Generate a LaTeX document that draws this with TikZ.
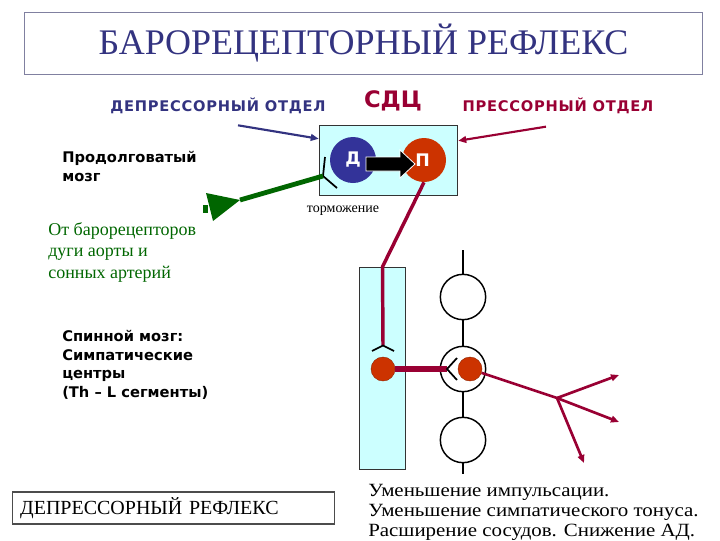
\documentclass[tikz,border=0pt]{standalone}
\usepackage{fontspec}
\setmainfont{Liberation Serif}
\setsansfont{DejaVu Sans}
\newfontfamily\spacedsans{DejaVu Sans}[LetterSpace=5]
\newfontfamily\wideserif{Liberation Serif}[FakeStretch=1.12]
\usepackage{tikz}
\usetikzlibrary{arrows.meta}

\definecolor{titlenavy}{RGB}{51,51,128}
\definecolor{framegray}{RGB}{128,128,160}
\definecolor{wine}{RGB}{153,0,51}
\definecolor{darkgreen}{RGB}{0,102,0}
\definecolor{paleblue}{RGB}{204,255,255}
\definecolor{neuronred}{RGB}{204,51,0}
\definecolor{neuronblue}{RGB}{51,51,153}

\begin{document}
\begin{tikzpicture}[x=0.75pt,y=0.75pt,yscale=-1,xscale=1,
	cyanbox/.style={draw=black!80, fill=paleblue, line width=0.6pt, inner sep=0pt},
	cell/.style={circle, fill=neuronred, draw=neuronred!70!black, line width=0.3pt, minimum size=18pt, inner sep=0pt},
	ganglion/.style={circle, draw=black, line width=1.1pt, minimum size=34pt, inner sep=0pt},
	synapse/.style={draw=black, line width=1.3pt},
	axon/.style={draw=wine, line width=2.6pt},
	tip/.style={-{Triangle[length=6pt,width=5pt]}},
	boldlabel/.style={font=\sffamily\bfseries\fontsize{11}{14}\selectfont, align=left, inner sep=0pt}
]
\useasboundingbox (0,0) rectangle (720,540);

%Shape: Rectangle
\node (title) at (363.5,43.5) [draw=framegray, line width=0.8pt, minimum width=509pt, minimum height=47pt, text=titlenavy, font=\fontsize{27}{30}\selectfont] {БАРОРЕЦЕПТОРНЫЙ РЕФЛЕКС};

% Text Node
\node (deplabel) at (218,106) [text=titlenavy, font=\spacedsans\bfseries\fontsize{11}{13}\selectfont] {ДЕПРЕССОРНЫЙ ОТДЕЛ};
% Text Node
\node (sdclabel) at (393,101) [text=wine, font=\sffamily\bfseries\fontsize{17}{20}\selectfont] {СДЦ};
% Text Node
\node (preslabel) at (558,106) [text=wine, font=\spacedsans\bfseries\fontsize{11}{13}\selectfont] {ПРЕССОРНЫЙ ОТДЕЛ};

%Shape: Rectangle
\node (sdc) at (388.5,160.5) [cyanbox, minimum width=104pt, minimum height=53pt] {};
%Shape: Circle
\node (d) at (353,160) [circle, fill=neuronblue, minimum size=34.5pt, inner sep=0pt, text=white, font=\sffamily\bfseries\fontsize{13}{15}\selectfont] {\raisebox{-3pt}{Д}};
%Shape: Circle
\node (p) at (424,160) [circle, fill=neuronred, minimum size=33pt, inner sep=0pt, text=white, font=\sffamily\bfseries\fontsize{13}{15}\selectfont] {\raisebox{-3pt}{\hspace{-2pt}П}};
%Shape: Right Arrow
\filldraw [fill=black, draw=white, line width=0.6pt] (366,157) -- (400,157) -- (400,150) -- (415,164) -- (400,178) -- (400,171) -- (366,171) -- cycle ;

%Straight Lines
\draw [titlenavy, line width=1.6pt, tip] ([xshift=15pt,yshift=5pt]deplabel.south) -- ([yshift=10.5pt]sdc.north west) ;
%Straight Lines
\draw [wine, line width=1.6pt, tip] ([xshift=-9pt,yshift=6pt]preslabel.south) -- ([yshift=12pt]sdc.north east) ;

% synapse on the depressor neuron
\coordinate (syn) at (323,176);
\draw [synapse] (325,157) -- (syn) -- (337,188) ;
% afferent fibre
\coordinate (recep) at (240,200);
\draw [darkgreen, line width=3.6pt] (syn) -- (recep) ;
\fill [darkgreen] (recep) -- (206,193) -- (213,221) -- cycle ;
\fill [darkgreen] (203,205) rectangle (208,213) ;

% Text Node
\node (torm) at (343,211) [font=\fontsize{10.5}{12}\selectfont] {торможение};
% Text Node
\node (medulla) at (62,151) [anchor=north west, boldlabel] {Продолговатый\\мозг};
% Text Node
\node (afferent) at (48,222) [anchor=north west, text=darkgreen, align=left, inner sep=0pt, font=\fontsize{13.5}{16.2}\selectfont] {От барорецепторов\\дуги аорты и\\сонных артерий};
% Text Node
\node (spinal) at (62,330) [anchor=north west, boldlabel] {Спинной мозг:\\Симпатические\\центры\\(Th -- L сегменты)};

%Shape: Rectangle
\node (cord) at (382.5,368.5) [cyanbox, minimum width=35pt, minimum height=152pt] {};
%Shape: Circle
\node (cordcell) at (383,369) [cell] {};
\coordinate (capS) at (383,345);
\draw [axon] (p.south) -- (cord.north) -- (capS) ;
\draw [synapse] (372,351) -- (383,345.5) -- (394,351) ;

% sympathetic chain
\node (g1) at (463,297) [ganglion] {};
\node (g2) at (463,369) [ganglion] {};
\node (g3) at (463,440) [ganglion] {};
\coordinate (chaintop) at (463,250);
\coordinate (chainbot) at (463,474);
\draw [line width=1.1pt] (chaintop) -- (g1) -- (g2) -- (g3) -- (chainbot) ;
\coordinate (gsyn) at (447,369);
\draw [wine, line width=3.8pt] (cordcell) -- (gsyn) ;
\draw [synapse] (457,358) -- (gsyn) -- (457,380) ;
\node (gcell) at (470,369) [cell] {};

% postganglionic fibre
\coordinate (branch) at (557,398);
\coordinate (endA) at (619,375);
\coordinate (endB) at (619,422);
\coordinate (endC) at (584,463);
\draw [wine, line width=2pt] (gcell) -- (branch) ;
\draw [wine, line width=2pt, tip] (branch) -- (endA) ;
\draw [wine, line width=2pt, tip] (branch) -- (endB) ;
\draw [wine, line width=2pt, tip] (branch) -- (endC) ;

%Shape: Rectangle
\node (result) at (173.5,508) [draw=black!70, line width=0.9pt, text width=230pt, inner xsep=6pt, minimum height=24pt, align=left, font=\fontsize{15}{16}\selectfont] {ДЕПРЕССОРНЫЙ РЕФЛЕКС};
% Text Node
\node (effects) at (368,484) [anchor=north west, align=left, inner sep=0pt, font=\wideserif\fontsize{14}{15}\selectfont] {Уменьшение импульсации.\\Уменьшение симпатического тонуса.\\Расширение сосудов. Снижение АД.};
\end{tikzpicture}
\end{document}
